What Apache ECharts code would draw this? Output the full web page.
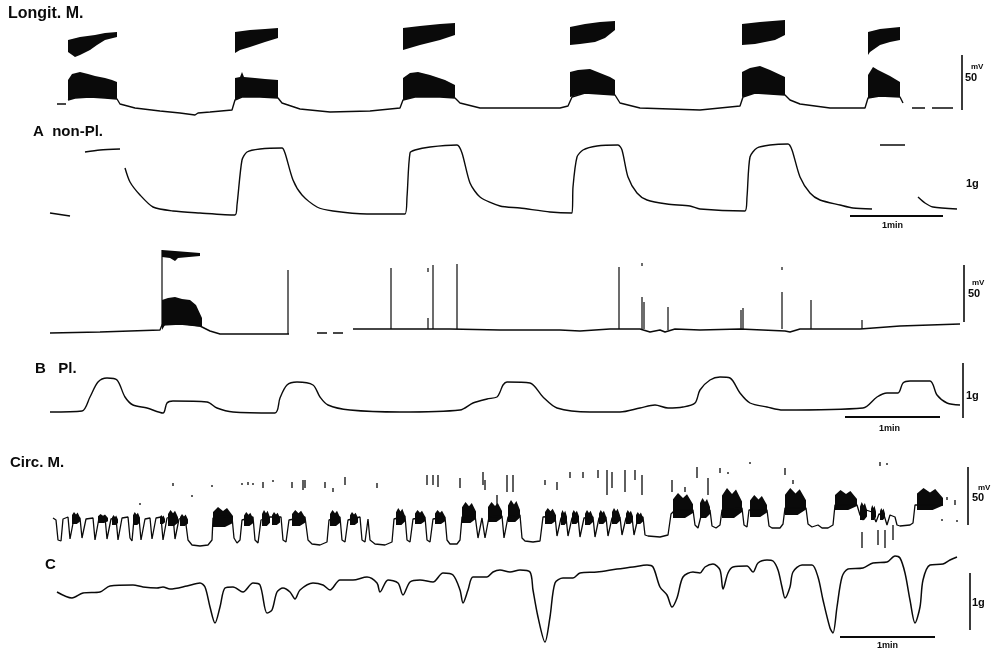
<!DOCTYPE html>
<html><head><meta charset="utf-8">
<script src="https://cdn.jsdelivr.net/npm/echarts@6/dist/echarts.min.js"></script>
<style>html,body{margin:0;padding:0;background:#fff}#c{width:997px;height:655px}</style>
</head><body><div id="c"></div>
<script>
// ===== DATA (time in chart units, 1 min ≈ 94 units; signal in trace units) =====
// Panel 1: Longit. M. membrane potential
const longitLine = [
  [[57,16],[66,16]],
  [[68,20],[75,22],[90,23],[105,22],[117,21],[120,16],[135,12],[160,9],[180,7],[195,5],[198,7],[210,8],[232,10],[235,20],[242,23],[260,23],[278,22],[282,17],[300,11],[330,8],[370,9],[400,12],[403,20],[415,23],[440,23],[455,22],[460,17],[480,12],[520,12],[560,12],[568,14],[572,23],[585,27],[600,26],[615,25],[620,17],[640,12],[700,10],[740,14],[743,23],[755,27],[785,25],[790,20],[800,16],[830,12],[865,12],[868,22],[880,24],[900,23],[903,17]],
  [[912,12],[925,12]],
  [[932,12],[953,12]]
];
const longitBursts = [
  [[68,20],[68,40],[72,46],[80,48],[88,46],[95,44],[105,42],[112,40],[117,38],[117,21],[105,22],[90,23],[75,22]],
  [[68,68],[68,80],[80,83],[95,85],[105,87],[117,88],[117,83],[105,80],[97,75],[90,70],[80,65],[75,63]],
  [[235,20],[235,42],[240,43],[242,48],[244,43],[255,42],[265,41],[278,40],[278,22],[260,23],[242,23]],
  [[235,67],[235,88],[250,90],[265,91],[278,92],[278,82],[265,78],[250,73],[240,70]],
  [[403,20],[403,42],[410,47],[418,48],[430,45],[445,40],[455,35],[455,22],[440,23],[415,23]],
  [[403,70],[403,92],[420,94],[440,96],[455,97],[455,85],[440,80],[420,75]],
  [[570,23],[570,48],[578,50],[590,51],[600,47],[610,43],[615,40],[615,25],[600,26],[585,27]],
  [[570,75],[570,93],[585,96],[600,98],[615,99],[615,90],[605,82],[595,78],[580,76]],
  [[742,23],[742,48],[750,52],[760,54],[770,50],[785,43],[785,25],[755,27]],
  [[742,75],[742,96],[760,98],[785,100],[785,85],[775,80],[765,78],[755,76]],
  [[868,22],[868,45],[873,53],[878,50],[882,48],[890,44],[900,38],[900,23],[880,24]],
  [[868,65],[868,88],[880,91],[900,93],[900,80],[890,78],[880,75],[870,68]]
];
const longitScale = [[962,10,65]];

// Panel 2: A non-Pl. tension
const tensionA = [
  [[50,12],[70,9]],
  [[85,73],[100,75],[120,76]],
  [[125,57],[130,43],[140,30],[153,18],[173,14],[200,12],[235,10],[237,20],[242,65],[247,73],[260,76],[282,77],[285,72],[293,45],[302,30],[317,18],[333,14],[367,11],[405,11],[407,28],[410,72],[415,75],[430,78],[457,80],[462,72],[470,42],[480,28],[500,19],[520,17],[550,13],[572,12],[573,38],[577,68],[583,75],[597,79],[618,80],[622,75],[628,48],[637,32],[647,25],[667,21],[690,19],[700,16],[745,14],[747,28],[750,68],[757,77],[770,80],[788,81],[792,75],[800,48],[810,32],[820,25],[840,20],[853,17],[872,16]],
  [[880,80],[905,80]],
  [[918,28],[925,22],[933,18],[957,16]]
];
const timeBarA = [[850,9],[943,9]];

// Panel 3: B Pl. membrane potential
const membraneB = [
  [[50,7],[100,8],[160,10],[162,15],[180,16],[200,14],[202,12],[210,9],[220,6],[286,6],[289,6]],
  [[317,7],[327,7]],
  [[333,7],[343,7]],
  [[353,11],[450,11],[500,10],[560,10],[580,9],[610,11],[640,11],[650,8],[660,10],[665,8],[675,11],[700,10],[740,11],[785,9],[790,8],[800,11],[860,11],[900,14],[960,16]]
];
const burstB = [
  [[162,83],[162,90],[175,89],[200,87],[200,84],[178,82],[175,79],[170,82]],
  [[162,10],[162,40],[168,42],[175,43],[182,41],[190,40],[196,35],[202,22],[202,13],[180,16],[165,15]]
];
const spikesB = [[162,15,90],[288,6,70],[391,11,72],[428,11,22],[428,68,72],[433,11,75],[457,11,76],[619,11,73],[642,11,43],[644,11,38],[642,74,77],[668,10,33],[741,11,30],[743,11,32],[782,11,48],[782,70,73],[811,11,40],[862,11,20]];
const scaleB = [[964,18,75]];

// Panel 4: B Pl. tension
const tensionB = [
  [[50,18],[82,19],[90,33],[98,48],[107,52],[117,50],[125,33],[133,25],[147,22],[163,17],[167,27],[173,29],[207,28],[217,22],[233,18],[275,17],[280,32],[287,45],[297,48],[313,45],[320,33],[328,25],[350,20],[400,18],[460,20],[473,27],[487,31],[497,33],[500,38],[503,45],[507,48],[530,47],[543,33],[557,22],[590,18],[620,18],[640,22],[655,25],[668,22],[683,23],[695,27],[700,40],[710,50],[720,53],[730,52],[740,37],[750,27],[767,23],[783,20],[863,22],[877,33],[887,37],[898,37],[903,47],[910,49],[930,49],[937,35],[947,27],[960,25]]
];
const scaleTB = [[963,12,67]];
const timeBarB = [[845,13],[940,13]];

// Panel 5: Circ. M. membrane potential
const circLine = [
  [[53,32],[56,30],[58,10],[61,9],[63,31],[68,33],[70,11],[72,10],[74,32],[80,32],[82,12],[84,10],[86,31],[93,32],[95,10],[97,9],[99,32],[105,33],[107,11],[109,10],[111,31],[116,32],[118,10],[120,9],[122,32],[128,33],[130,12],[132,9],[134,31],[139,32],[141,10],[143,9],[145,31],[150,32],[152,11],[154,9],[156,32],[161,33],[163,10],[165,9],[167,32],[173,34],[175,11],[177,9],[179,31],[185,33],[188,10],[192,5],[200,4],[208,5],[212,10],[213,32],[220,34],[232,33],[234,12],[237,7],[240,10],[242,30],[253,33],[255,10],[258,7],[261,30],[270,33],[281,33],[283,10],[286,8],[289,30],[305,33],[308,10],[312,6],[320,5],[327,8],[329,30],[340,33],[342,10],[345,8],[348,30],[360,33],[362,10],[365,8],[368,31],[370,10],[375,6],[385,5],[392,8],[394,31],[405,34],[407,10],[410,8],[413,31],[425,33],[427,10],[430,8],[433,31],[445,33],[447,10],[450,6],[457,6],[460,10],[462,33],[475,35],[478,12],[480,10],[482,32],[485,12],[487,10],[489,33],[502,34],[504,12],[506,11],[508,33],[520,35],[522,12],[525,9],[533,8],[540,9],[543,33],[555,34],[557,14],[559,13],[561,32],[566,33],[568,14],[570,13],[572,32],[578,33],[580,13],[582,12],[584,32],[593,33],[595,13],[597,12],[599,32],[606,33],[608,14],[610,13],[612,32],[620,33],[622,15],[624,14],[626,32],[632,33],[634,15],[636,14],[638,32],[643,33],[645,15],[648,14],[660,13],[668,15],[671,36],[675,40],[693,40],[695,25],[698,22],[700,24],[702,38],[710,40],[712,24],[716,22],[720,25],[722,40],[742,42],[744,25],[747,23],[749,40],[767,40],[769,24],[772,22],[780,22],[783,26],[785,42],[806,42],[808,26],[812,23],[818,25],[822,22],[828,22],[833,25],[835,45],[857,45],[860,35],[863,30],[866,40],[872,38],[876,28],[879,36],[884,35],[887,25],[890,35],[895,33],[897,25],[900,24],[910,25],[913,27],[915,45],[943,45]]
];
// bursts: [start, end, low, high]
const circBursts = [[72,80,26,38],[98,108,27,36],[112,118,25,35],[133,140,25,38],[160,165,26,35],[168,178,24,40],[180,188,24,36],[213,233,23,43],[244,253,24,38],[262,270,24,40],[272,280,25,38],[292,305,24,40],[330,340,24,40],[350,358,25,38],[396,405,25,42],[415,425,26,40],[435,445,26,40],[462,476,27,48],[488,502,28,48],[508,520,28,50],[545,556,26,42],[561,567,25,40],[572,579,26,40],[585,593,25,40],[599,606,26,40],[612,620,26,42],[626,633,26,40],[636,643,26,38],[673,693,32,57],[700,710,32,52],[722,742,32,62],[750,767,33,55],[785,806,35,62],[835,857,40,60],[860,867,30,48],[871,876,30,45],[880,885,30,42],[917,943,40,62]];
const circSpikes = [[140,45,47],[173,64,67],[192,53,55],[212,63,65],[242,65,67],[248,65,68],[253,65,67],[263,62,68],[273,68,70],[292,62,68],[303,60,70],[305,62,70],[325,62,68],[333,58,62],[345,65,73],[377,62,67],[427,65,75],[433,65,75],[438,63,75],[460,62,72],[483,65,78],[485,60,70],[497,45,55],[507,58,75],[513,58,75],[545,65,70],[557,60,68],[570,72,78],[583,72,78],[598,72,80],[607,55,80],[612,62,78],[625,58,80],[635,70,80],[642,55,75],[672,58,70],[685,58,63],[697,72,83],[708,55,72],[720,77,82],[728,76,78],[750,86,88],[785,75,82],[793,66,70],[880,84,88],[887,85,87],[862,2,18],[878,5,20],[885,2,20],[893,10,25],[947,50,53],[955,45,50],[942,29,31],[957,28,30]];
const scaleCirc = [[968,25,83]];

// Panel 6: C tension
const tensionC = [
  [[57,58],[72,52],[83,57],[100,58],[110,64],[133,65],[143,63],[157,62],[163,63],[170,61],[187,64],[200,67],[205,63],[210,43],[215,27],[220,43],[225,62],[233,63],[243,58],[253,67],[260,65],[267,37],[272,40],[277,58],[283,62],[290,58],[295,51],[300,60],[313,67],[323,65],[330,60],[340,70],[353,70],[367,73],[377,67],[380,58],[388,70],[398,67],[403,55],[410,68],[420,70],[433,68],[443,77],[453,75],[460,60],[463,47],[468,60],[473,73],[487,73],[493,78],[500,80],[510,78],[520,80],[530,78],[533,60],[538,33],[545,8],[550,33],[555,67],[563,72],[573,72],[580,77],[597,78],[617,81],[633,83],[647,85],[653,83],[660,63],[667,55],[672,43],[677,52],[683,73],[693,78],[700,77],[705,83],[713,86],[720,80],[723,61],[728,77],[733,83],[747,84],[753,78],[758,87],[767,90],[773,89],[778,80],[782,63],[785,52],[790,63],[793,78],[802,85],[812,85],[818,73],[823,50],[830,22],[833,17],[837,43],[842,73],[848,81],[863,82],[873,87],[887,88],[895,94],[900,92],[905,77],[910,50],[915,27],[920,43],[923,70],[930,85],[943,86],[950,90],[957,93]]
];
const scaleTC = [[970,20,77]];
const timeBarC = [[840,13],[935,13]];

// ===== CHART =====
const panels = [
  {top:15, height:105}, {top:125, height:100}, {top:240, height:100},
  {top:330, height:100}, {top:450, height:100}, {top:550, height:100}
];
const INK = '#0a0a0a';
const grid = panels.map(p => ({left:0, right:0, top:p.top, height:p.height}));
const xAxis = panels.map((p,i) => ({type:'value', gridIndex:i, min:0, max:997, show:false}));
const yAxis = panels.map((p,i) => ({type:'value', gridIndex:i, min:0, max:p.height, show:false}));

const series = [];
function lines(segs, gi, smooth, width) {
  segs.forEach(s => series.push({type:'line', xAxisIndex:gi, yAxisIndex:gi, data:s, symbol:'none', smooth:smooth||false,
    lineStyle:{color:INK, width:width||1.4}, silent:true, animation:false}));
}
function polys(list, gi) {
  series.push({type:'custom', xAxisIndex:gi, yAxisIndex:gi, silent:true, animation:false,
    data:list.map(p => [p[0][0], p[0][1]]),
    renderItem:(params, api) => ({type:'polygon', shape:{points:list[params.dataIndex].map(q => api.coord(q))}, style:{fill:INK}})
  });
}
function blobs(list, gi) {
  series.push({type:'custom', xAxisIndex:gi, yAxisIndex:gi, silent:true, animation:false,
    data:list, encode:{x:[0,1], y:[2,3]},
    renderItem:(params, api) => {
      const x1=api.value(0), x2=api.value(1), lo=api.value(2), hi=api.value(3);
      const w=x2-x1, h=hi-lo;
      const pts=[[x1,lo],[x1,lo+h*0.75],[x1+w*0.25,hi],[x1+w*0.5,hi-h*0.2],[x1+w*0.7,hi-h*0.05],[x2,lo+h*0.55],[x2,lo+h*0.2],[x1+w*0.6,lo]];
      return {type:'polygon', shape:{points:pts.map(q=>api.coord(q))}, style:{fill:INK}};
    }});
}
function ticks(list, gi, width) {
  series.push({type:'custom', xAxisIndex:gi, yAxisIndex:gi, silent:true, animation:false,
    data:list, encode:{x:0, y:[1,2]},
    renderItem:(params, api) => {
      const a=api.coord([api.value(0), api.value(1)]), b=api.coord([api.value(0), api.value(2)]);
      return {type:'line', shape:{x1:a[0], y1:a[1], x2:b[0], y2:b[1]}, style:{stroke:INK, lineWidth:width||1.2}};
    }});
}

lines(longitLine, 0); polys(longitBursts, 0); ticks(longitScale, 0, 1.6);
lines(tensionA, 1, 0.25); lines([timeBarA], 1, false, 2);
lines(membraneB, 2); polys(burstB, 2); ticks(spikesB, 2, 1.2); ticks(scaleB, 2, 1.6);
lines(tensionB, 3, 0.3); ticks(scaleTB, 3, 1.6); lines([timeBarB], 3, false, 2);
lines(circLine, 4, false, 1.3); blobs(circBursts, 4); ticks(circSpikes, 4, 1.3); ticks(scaleCirc, 4, 1.6);
lines(tensionC, 5, 0.3, 1.5); ticks(scaleTC, 5, 1.6); lines([timeBarC], 5, false, 2);

const FF = '"Liberation Sans", Arial, sans-serif';
function txt(text, x, y, size, weight) {
  return {type:'text', left:x, top:y, silent:true, style:{text:text, fill:INK, font:(weight||'bold')+' '+size+'px '+FF}};
}
const graphic = [
  txt('Longit. M.', 8, 6, 16),
  txt('A  non-Pl.', 33, 124, 15),
  txt('B   Pl.', 35, 361, 15),
  txt('Circ. M.', 10, 455, 15),
  txt('C', 45, 557, 15),
  txt('mV', 971, 63, 8), txt('50', 965, 72, 11),
  txt('mV', 972, 279, 8), txt('50', 968, 288, 11),
  txt('mV', 978, 484, 8), txt('50', 972, 492, 11),
  txt('1g', 966, 178, 11), txt('1g', 966, 390, 11), txt('1g', 972, 597, 11),
  txt('1min', 882, 221, 9), txt('1min', 879, 424, 9), txt('1min', 877, 641, 9)
];

const chart = echarts.init(document.getElementById('c'), null, {renderer:'canvas'});
chart.setOption({animation:false, backgroundColor:'#fff', grid, xAxis, yAxis, series, graphic});
</script>
</body></html>
